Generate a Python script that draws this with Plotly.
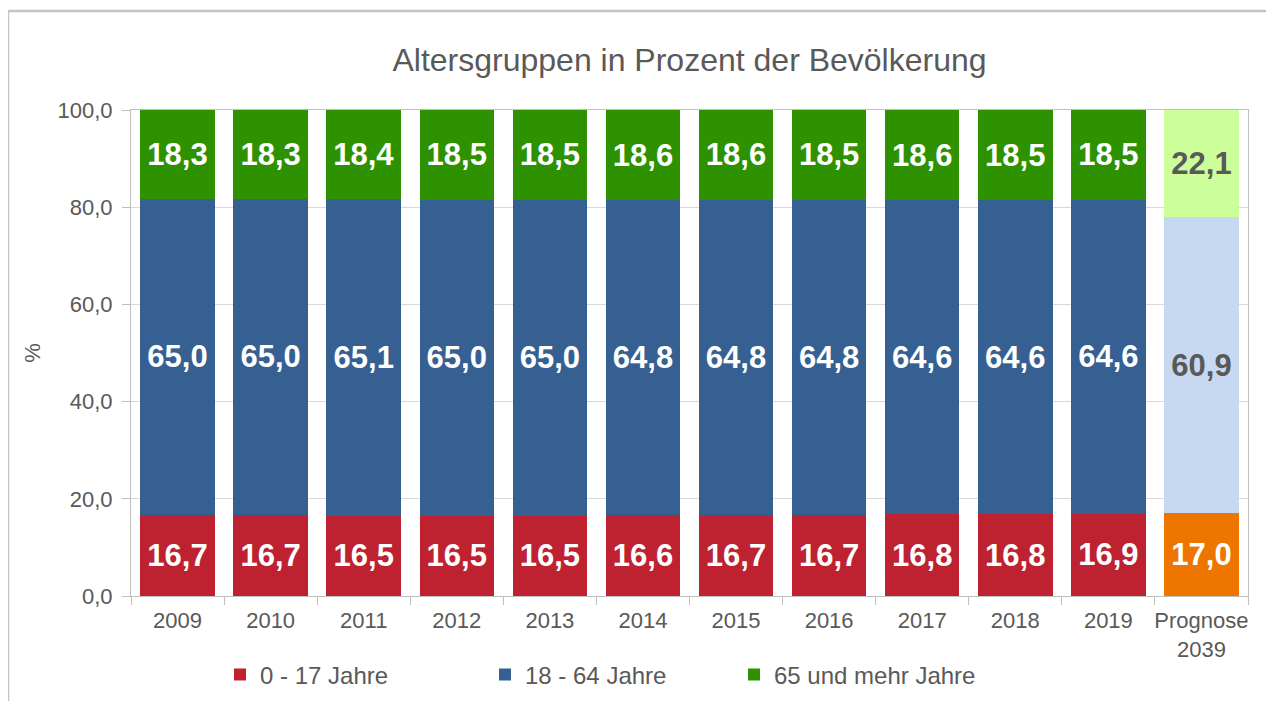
import plotly.graph_objects as go

categories = ["2009", "2010", "2011", "2012", "2013", "2014", "2015", "2016",
              "2017", "2018", "2019", "Prognose<br>2039"]
young = [16.7, 16.7, 16.5, 16.5, 16.5, 16.6, 16.7, 16.7, 16.8, 16.8, 16.9, 17.0]
middle = [65.0, 65.0, 65.1, 65.0, 65.0, 64.8, 64.8, 64.8, 64.6, 64.6, 64.6, 60.9]
old = [18.3, 18.3, 18.4, 18.5, 18.5, 18.6, 18.6, 18.5, 18.6, 18.5, 18.5, 22.1]
series_names = ["0 - 17 Jahre", "18 - 64 Jahre", "65 und mehr Jahre"]

FONT = "Liberation Sans, Arial, sans-serif"
GRAY = "#595959"

hist_colors = ["#BE2231", "#366092", "#2E9200"]
prog_colors = ["#EE7600", "#C6D9F1", "#CCFF99"]
prog_text = ["white", GRAY, GRAY]

fig = go.Figure()
n = len(categories) - 1
legends = ["legend", "legend2", "legend3"]
for i, vals in enumerate([young, middle, old]):
    fig.add_trace(go.Bar(
        x=categories[:n], y=vals[:n], name=series_names[i],
        marker=dict(color=hist_colors[i], line=dict(width=0)),
        texttemplate="%{y:.1f}", textposition="inside", insidetextanchor="middle",
        textfont=dict(family=FONT, size=31, color="white", weight="bold"),
        constraintext="none", legend=legends[i],
    ))
for i, vals in enumerate([young, middle, old]):
    fig.add_trace(go.Bar(
        x=categories[n:], y=vals[n:], name=series_names[i], showlegend=False,
        marker=dict(color=prog_colors[i], line=dict(width=0)),
        texttemplate="%{y:.1f}", textposition="inside", insidetextanchor="middle",
        textfont=dict(family=FONT, size=31, color=prog_text[i], weight="bold"),
        constraintext="none",
    ))

# page offset (browser body margin)
OFF = 8
W, H = 1274, 701
# desired plot box in page pixels
PL, PR, PT, PB = 131, 1248, 110, 596
L, T = PL - OFF, PT - OFF
R = W - (PR - OFF)
B = H - (PB - OFF)
pw, ph = W - L - R, H - T - B

def px_x(x):  # page px -> paper
    return (x - OFF - L) / pw

def px_y(y):
    return (H - B - (y - OFF)) / ph

leg_common = dict(orientation="h", yanchor="middle", xanchor="left",
                  font=dict(family=FONT, size=24, color=GRAY),
                  bgcolor="rgba(0,0,0,0)", itemwidth=30)

fig.update_layout(
    width=W, height=H,
    margin=dict(l=L, r=R, t=T, b=B, autoexpand=False),
    barmode="stack", bargap=0.2,
    separators=",.",
    paper_bgcolor="white", plot_bgcolor="white",
    font=dict(family=FONT, color=GRAY),
    title=dict(text="Altersgruppen in Prozent der Bevölkerung",
               x=0.5, xref="paper", y=1 - (60 - OFF) / H, yref="container",
               xanchor="center", yanchor="middle",
               font=dict(family=FONT, size=32, color=GRAY)),
    legend=dict(x=px_x(220), y=px_y(675), **leg_common),
    legend2=dict(x=px_x(485), y=px_y(675), **leg_common),
    legend3=dict(x=px_x(734), y=px_y(675), **leg_common),
    xaxis=dict(type="category", tickson="boundaries", ticks="outside", ticklen=8,
               tickcolor="#BFBFBF", showline=True, linecolor="#BFBFBF", linewidth=1,
               mirror=True, showgrid=False, tickangle=0, automargin=False,
               ticklabelstandoff=5,
               tickfont=dict(family=FONT, size=22, color=GRAY)),
    yaxis=dict(range=[0, 100], dtick=20, tickformat=".1f", ticks="outside", ticklen=8,
               tickcolor="#BFBFBF", showline=True, linecolor="#BFBFBF", linewidth=1,
               mirror=True, showgrid=True, gridcolor="#D9D9D9", gridwidth=1,
               zeroline=False, automargin=False, ticklabelstandoff=5,
               tickfont=dict(family=FONT, size=22, color=GRAY),
               title=dict(text="%", standoff=10, font=dict(family=FONT, size=22, color=GRAY))),
    shapes=[dict(type="rect", xref="paper", yref="paper",
                 x0=px_x(8), x1=px_x(W + 20), y0=px_y(H + 20), y1=px_y(11),
                 line=dict(color="#C4C4C4", width=2.5), layer="below")],
)

fig.write_html("out.html")
